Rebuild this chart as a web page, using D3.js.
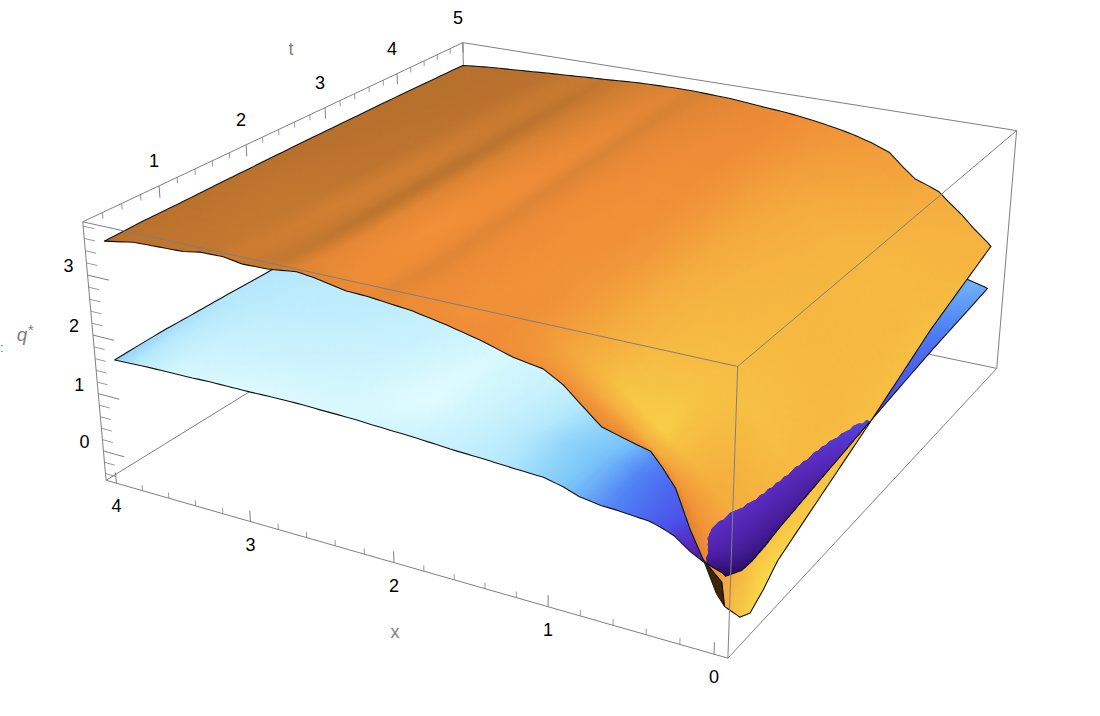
<!DOCTYPE html>
<html><head><meta charset="utf-8"><style>html,body{margin:0;background:#fff}svg{display:block}text{font-family:"Liberation Sans",Arial,sans-serif}</style></head>
<body><svg id="chart" width="1100" height="716"></svg>
<script src="https://cdn.jsdelivr.net/npm/d3@7"></script>
<script>
// ---- data ----
const xKnots=[0,.02,.13,.21,.3,.38,.45,.55,.64,.74,.87,.97,1.09,1.27,1.48,1.68,1.9,2.19,2.33,2.55,2.66,2.86,3.03,3.17,3.33,3.45,3.81,4.03];
const tKnots=[.33,.56,.71,.9,1.11,1.6,2.5,3.7,4.9];
const orangeQ=[
[.08,-.36,-.47,-.31,-.07,.19,.66,1.33,1.82],
[.45,-.26,-.37,-.21,.03,.29,.72,1.38,1.87],
[.72,.45,.40,.42,.52,.76,1.05,1.65,2.10],
[1.13,.75,.68,.72,.85,1.10,1.35,1.88,2.29],
[1.71,1.05,.98,1.05,1.18,1.48,1.65,2.10,2.47],
[1.98,1.35,1.25,1.28,1.38,1.66,1.82,2.24,2.64],
[2.18,1.60,1.45,1.45,1.55,1.80,1.95,2.35,2.71],
[2.24,1.80,1.65,1.63,1.70,1.92,2.10,2.48,2.80],
[2.30,2.00,1.85,1.80,1.85,2.05,2.25,2.60,2.98],
[2.37,2.20,2.08,2.02,2.05,2.22,2.42,2.78,3.20],
[2.65,2.45,2.35,2.30,2.30,2.45,2.65,2.98,3.32],
[2.87,2.62,2.52,2.47,2.47,2.60,2.80,3.10,3.39],
[3.04,2.80,2.70,2.65,2.65,2.75,2.95,3.22,3.46],
[3.11,2.98,2.90,2.87,2.87,2.95,3.12,3.35,3.54],
[3.26,3.15,3.10,3.08,3.08,3.15,3.30,3.48,3.61],
[3.37,3.30,3.27,3.25,3.25,3.30,3.40,3.55,3.65],
[3.47,3.42,3.40,3.38,3.38,3.42,3.50,3.62,3.70],
[3.54,3.50,3.49,3.47,3.47,3.49,3.55,3.65,3.73],
[3.55,3.53,3.52,3.50,3.50,3.52,3.58,3.67,3.73],
[3.65,3.60,3.58,3.56,3.55,3.57,3.61,3.68,3.72],
[3.68,3.65,3.62,3.60,3.58,3.60,3.63,3.68,3.71],
[3.62,3.61,3.60,3.60,3.59,3.60,3.62,3.66,3.68],
[3.61,3.60,3.60,3.60,3.60,3.60,3.62,3.64,3.66],
[3.66,3.63,3.62,3.61,3.60,3.60,3.61,3.63,3.64],
[3.65,3.62,3.60,3.59,3.59,3.59,3.59,3.61,3.62],
[3.60,3.59,3.58,3.58,3.58,3.58,3.58,3.59,3.60],
[3.57,3.55,3.54,3.54,3.54,3.55,3.55,3.55,3.55],
[3.48,3.49,3.50,3.50,3.50,3.51,3.52,3.52,3.50]];
const blueQ=[
[.56,.39,.37,.40,.46,.55,.71,.90,1.04],
[.60,.42,.40,.43,.49,.58,.74,.92,1.06],
[.69,.60,.58,.60,.65,.76,.90,1.02,1.13],
[.80,.74,.72,.74,.78,.87,.99,1.09,1.17],
[.97,.90,.88,.88,.90,.98,1.08,1.16,1.22],
[1.05,.99,.97,.97,.98,1.05,1.14,1.21,1.25],
[1.10,1.05,1.03,1.03,1.05,1.10,1.18,1.24,1.28],
[1.12,1.10,1.09,1.09,1.10,1.15,1.22,1.27,1.31],
[1.14,1.14,1.14,1.14,1.16,1.20,1.26,1.30,1.33],
[1.15,1.18,1.18,1.19,1.21,1.25,1.29,1.33,1.35],
[1.20,1.22,1.24,1.25,1.26,1.30,1.33,1.36,1.38],
[1.29,1.28,1.28,1.29,1.30,1.33,1.35,1.38,1.40],
[1.36,1.34,1.33,1.33,1.33,1.36,1.38,1.40,1.42],
[1.38,1.37,1.37,1.37,1.37,1.39,1.41,1.43,1.44],
[1.41,1.41,1.41,1.41,1.41,1.42,1.44,1.45,1.46],
[1.43,1.44,1.44,1.44,1.44,1.45,1.46,1.47,1.48],
[1.47,1.47,1.47,1.47,1.47,1.47,1.48,1.48,1.49],
[1.50,1.50,1.50,1.50,1.50,1.50,1.50,1.50,1.50],
[1.52,1.52,1.51,1.51,1.51,1.51,1.51,1.51,1.51],
[1.53,1.53,1.53,1.52,1.52,1.52,1.52,1.52,1.52],
[1.54,1.54,1.54,1.53,1.53,1.53,1.53,1.53,1.53],
[1.54,1.54,1.54,1.53,1.53,1.53,1.53,1.53,1.53],
[1.53,1.53,1.53,1.53,1.53,1.53,1.53,1.53,1.53],
[1.53,1.53,1.53,1.53,1.53,1.53,1.53,1.53,1.53],
[1.53,1.53,1.53,1.53,1.53,1.53,1.53,1.53,1.53],
[1.52,1.52,1.52,1.52,1.52,1.52,1.53,1.53,1.53],
[1.51,1.51,1.52,1.52,1.52,1.53,1.53,1.53,1.53],
[1.49,1.51,1.52,1.53,1.53,1.54,1.54,1.54,1.54]];
const orangeShadeT=[.33,.55,.9,1.6,2.6,3.7,4.9];
const orangeShadeX=[0,.05,.13,.3,.45,.64,.87,1.09,1.3,1.5,1.7,1.9,2.02,2.15,2.28,2.45,2.68,2.85,2.98,3.13,3.3,3.6,4.03];
const orangeShade=[
[.68,.9,.98,.9,.84,.84,.76],[.58,.8,.9,.84,.82,.82,.74],[.42,.55,.7,.8,.8,.8,.74],[.38,.5,.7,.84,.78,.8,.72],
[.4,.52,.78,.84,.78,.78,.68],[.42,.56,.92,.84,.78,.75,.63],[.47,.6,.88,.8,.75,.7,.58],[.5,.58,.72,.72,.68,.64,.55],
[.5,.54,.6,.6,.58,.56,.52],[.5,.5,.52,.54,.52,.5,.48],[.5,.52,.53,.53,.52,.5,.46],[.48,.5,.5,.5,.5,.46,.42],
[.48,.48,.47,.48,.46,.44,.4],[.44,.42,.4,.4,.38,.36,.34],[.48,.5,.5,.5,.5,.46,.4],[.44,.48,.5,.52,.48,.42,.36],
[.38,.42,.44,.44,.38,.32,.3],[.28,.22,.2,.16,.14,.16,.2],[.22,.26,.28,.3,.3,.26,.26],[.28,.3,.3,.32,.3,.26,.24],
[.2,.22,.24,.22,.18,.16,.14],[.2,.2,.2,.22,.16,.14,.14],[.14,.14,.14,.14,.12,.12,.12]];
const blueShadeT=[.33,.8,1.6,2.6,3.7,4.9];
const blueShadeX=[0,.1,.2,.35,.5,.7,.9,1.2,1.6,2.1,2.6,3.1,3.6,3.85,4.03];
const blueShade=[
[.02,.06,.12,.3,.38,.5],[.08,.14,.2,.32,.4,.52],[.18,.22,.28,.34,.42,.5],[.32,.34,.36,.38,.42,.5],
[.38,.36,.38,.42,.45,.5],[.44,.42,.46,.5,.5,.5],[.52,.52,.56,.6,.6,.6],[.66,.62,.68,.7,.7,.7],
[.82,.82,.85,.85,.85,.85],[.92,1,.95,.9,.9,.9],[.96,.9,.85,.8,.8,.8],[.98,.88,.8,.75,.75,.75],
[.92,.86,.78,.75,.75,.75],[.75,.78,.74,.72,.72,.72],[.6,.64,.72,.7,.7,.7]];
const undersideX=[.13,.05,0,.02];
const undersideQ=[.72,.25,.08,.45];
const xTicks=[0,1,2,3,4], tTicks=[1,2,3,4,5], qTicks=[0,1,2,3];
const xDomain=[-.08,4.08], tDomain=[.2,5], qDomain=[-.52,3.87];
const edgeColor='#7f7f7f';
const orangeRamp=d3.scaleLinear([0,.25,.5,.7,.85,1],['#a9672a','#c67a31','#ef8d37','#f5ac3f','#f6c144','#fbde4e']);
const blueRamp=d3.scaleLinear([0,.12,.22,.32,.42,.55,.72,1],['#25095c','#4a1fa0','#5a2cc0','#4a4fe8','#4f7ff5','#7cc7f9','#b5e8fc','#e0fcff']);
// camera calibrated on the eight corners of the frame: [u,v,w, px,py]
const cameraAnchors=[[1,0,1,83,222],[0,0,1,738,368],[0,1,1,1016,130],[1,1,1,463,42],[1,0,0,105.5,479],[0,0,0,728,658],[0,1,0,997,368],[1,1,0,467,259]];

// ---- projection ----
function solve(A,b){const n=b.length;A=A.map((r,i)=>[...r,b[i]]);for(let i=0;i<n;i++){let m=i;for(let k=i+1;k<n;k++)if(Math.abs(A[k][i])>Math.abs(A[m][i]))m=k;[A[i],A[m]]=[A[m],A[i]];for(let k=0;k<n;k++)if(k!=i){const f=A[k][i]/A[i][i];for(let j=i;j<=n;j++)A[k][j]-=f*A[i][j];}}return A.map((r,i)=>r[n]/r[i]);}
const rows=[],rhs=[];
for(const[u,v,w,x,y]of cameraAnchors){rows.push([u,v,w,1,0,0,0,0,-x*u,-x*v,-x*w]);rhs.push(x);rows.push([0,0,0,0,u,v,w,1,-y*u,-y*v,-y*w]);rhs.push(y);}
const P=solve(d3.range(11).map(i=>d3.range(11).map(j=>d3.sum(rows,r=>r[i]*r[j]))),d3.range(11).map(i=>d3.sum(rows,(r,k)=>r[i]*rhs[k])));
const sx=d3.scaleLinear(xDomain,[0,1]),st=d3.scaleLinear(tDomain,[0,1]),sq=d3.scaleLinear(qDomain,[0,1]);
function proj(x,t,q){const u=sx(x),v=st(t),w=sq(q),d=P[8]*u+P[9]*v+P[10]*w+1;return[(P[0]*u+P[1]*v+P[2]*w+P[3])/d,(P[4]*u+P[5]*v+P[6]*w+P[7])/d];}

// surface lookup between the knots read above
function field(xk,tk,grid){
  const ix=d3.scaleLinear(xk,d3.range(xk.length)).clamp(true),it=d3.scaleLinear(tk,d3.range(tk.length)).clamp(true);
  return (x,t)=>{const a=ix(x),b=it(t),i=Math.min(Math.floor(a),xk.length-2),j=Math.min(Math.floor(b),tk.length-2),f=a-i,g=b-j;
    return d3.interpolateNumber(d3.interpolateNumber(grid[i][j],grid[i][j+1])(g),d3.interpolateNumber(grid[i+1][j],grid[i+1][j+1])(g))(f);};
}
const qO=field(xKnots,tKnots,orangeQ),qB=field(xKnots,tKnots,blueQ);
const cO=field(orangeShadeX,orangeShadeT,orangeShade),cB=field(blueShadeX,blueShadeT,blueShade);
function subdivide(knots,stepFor){const out=[];for(let i=0;i<knots.length-1;i++){const a=knots[i],b=knots[i+1],n=Math.max(1,Math.ceil((b-a)/stepFor(a)));for(let k=0;k<n;k++)out.push(a+(b-a)*k/n);}out.push(knots[knots.length-1]);return out;}
const fx=subdivide(xKnots,a=>a<.35?.01:a<.6?.02:.05), ft=subdivide(tKnots,a=>a<2.4?.05:.09);

const svg=d3.select('#chart'), line=d3.line();
const defs=svg.append('defs');
function softFilter(id,edgeSharpen){
  const f=defs.append('filter').attr('id',id).attr('filterUnits','userSpaceOnUse').attr('x',0).attr('y',0).attr('width',1100).attr('height',716).attr('color-interpolation-filters','sRGB');
  f.append('feGaussianBlur').attr('in','SourceGraphic').attr('stdDeviation',edgeSharpen?1.8:2).attr('result','b');
  if(edgeSharpen){f.append('feComponentTransfer').attr('in','b').append('feFuncA').attr('type','linear').attr('slope',7).attr('intercept',-3);}
  else{const m=f.append('feMerge');m.append('feMergeNode').attr('in','SourceGraphic');m.append('feMergeNode').attr('in','b');}
}
softFilter('soft',false);softFilter('softEdge',true);
function edge(g,a,b,w){g.append('path').attr('d',line([a,b])).attr('fill','none').attr('stroke',edgeColor).attr('stroke-width',w||1);}
const [x0,x1]=xDomain,[t0,t1]=tDomain,[q0,q1]=qDomain;
const back=svg.append('g');
edge(back,proj(x1,t0,q0),proj(x1,t1,q0));edge(back,proj(x1,t1,q0),proj(x0,t1,q0));edge(back,proj(x1,t1,q0),proj(x1,t1,q1));

// painter's cells
const cells=[];
for(let j=ft.length-2;j>=0;j--)for(let i=fx.length-2;i>=0;i--){
  const a=fx[i],b=fx[i+1],c=ft[j],d=ft[j+1];cells.push({a,b,c,d,mx:(a+b)/2,mt:(c+d)/2});
}
function drawSurface(g,cs,qf,cf,ramp){
  g.selectAll('path').data(cs).join('path')
   .attr('d',k=>line([proj(k.a,k.c,qf(k.a,k.c)),proj(k.b,k.c,qf(k.b,k.c)),proj(k.b,k.d,qf(k.b,k.d)),proj(k.a,k.d,qf(k.a,k.d))])+'Z')
   .attr('fill',k=>ramp(cf(k.mx,k.mt))).attr('stroke',k=>ramp(cf(k.mx,k.mt))).attr('stroke-width',.6);
}
function outline(qf){
  const pts=[];
  ft.forEach(t=>pts.push([fx[0],t]));
  fx.slice(1).forEach(x=>pts.push([x,ft[ft.length-1]]));
  ft.slice(0,-1).reverse().forEach(t=>pts.push([fx[fx.length-1],t]));
  fx.slice(1,-1).reverse().forEach(x=>pts.push([x,ft[0]]));
  return pts.map(p=>proj(p[0],p[1],qf(p[0],p[1])));
}
const inkWidth=1.1;
function stroke(g,pts){g.append('path').attr('d',line(pts)+'Z').attr('fill','none').attr('stroke','#111').attr('stroke-width',inkWidth).attr('stroke-linejoin','round');}
function sheet(name,qf,cf,ramp){
  const o=outline(qf);
  defs.append('clipPath').attr('id','clip-'+name).append('path').attr('d',line(o)+'Z');
  const layer=svg.append('g');
  drawSurface(layer.append('g').attr('clip-path',`url(#clip-${name})`).append('g').attr('filter','url(#soft)'),cells,qf,cf,ramp);
  stroke(layer,o);
}
sheet('blue',qB,cB,blueRamp);
// underside of the orange sheet at the tip
svg.append('path').attr('d',line(undersideX.map((x,i)=>proj(x,tKnots[0],undersideQ[i])))+'Z').attr('fill','#3f2408').attr('stroke','#111').attr('stroke-width',1);
sheet('orange',qO,cO,orangeRamp);
// where the blue sheet rises above the orange one
const above=cells.filter(k=>qB(k.mx,k.mt)>qO(k.mx,k.mt));
const topLayer=svg.append('g');drawSurface(topLayer.append('g').attr('filter','url(#softEdge)'),above,qB,cB,blueRamp);
const rim=[];ft.forEach(t=>rim.push([0,t]));
const rimFront=fx.map(x=>[x,ft[0]]);
[rim,rimFront].forEach(r=>{for(let i=0;i<r.length-1;i++){const m=[(r[i][0]+r[i+1][0])/2,(r[i][1]+r[i+1][1])/2];if(qB(m[0],m[1])>qO(m[0],m[1]))topLayer.append('path').attr('d',line([proj(r[i][0],r[i][1],qB(r[i][0],r[i][1])),proj(r[i+1][0],r[i+1][1],qB(r[i+1][0],r[i+1][1]))])).attr('stroke','#111').attr('stroke-width',inkWidth).attr('fill','none').attr('stroke-linecap','round');}});

// frame in front of the sheets
const front=svg.append('g');
edge(front,proj(x1,t0,q1),proj(x0,t0,q1));edge(front,proj(x0,t0,q1),proj(x0,t1,q1));edge(front,proj(x0,t0,q1),proj(x0,t0,q0));
edge(front,proj(x1,t0,q1),proj(x1,t1,q1));edge(front,proj(x1,t1,q1),proj(x0,t1,q1));edge(front,proj(x0,t1,q1),proj(x0,t1,q0));
edge(front,proj(x1,t0,q1),proj(x1,t0,q0));edge(front,proj(x1,t0,q0),proj(x0,t0,q0));edge(front,proj(x0,t0,q0),proj(x0,t1,q0));

// ticks
const minor=(a,b)=>d3.range(Math.round(a*5),Math.round(b*5)+1).map(v=>v/5);
const ticks=svg.append('g');
function tk(a,b,maj){ticks.append('path').attr('d',line([a,b])).attr('stroke',edgeColor).attr('stroke-width',maj?1:.8).attr('fill','none');}
minor(0,4).forEach(v=>{const m=xTicks.includes(v);tk(proj(v,t0,q0),proj(v,t0,q0+(m?.19:.1)),m);});
minor(.2,5).forEach(v=>{const m=tTicks.includes(v);if(v>t0)tk(proj(x1,v,q1),proj(x1,v,q1-(m?.2:.1)),m);});
minor(-.4,3.8).forEach(v=>{const m=qTicks.includes(v);tk(proj(x1,t0,v),proj(x1-(m?.16:.08),t0,v),m);});
function label(p,dx,dy,s){svg.append('text').attr('x',p[0]+dx).attr('y',p[1]+dy).attr('text-anchor','middle').attr('dominant-baseline','central').attr('font-size',18).attr('fill','#000').text(s);}
xTicks.forEach(v=>label(proj(v,t0,q0),0,23,v));
tTicks.forEach(v=>label(proj(x1,v,q1),-5,-25,v));
qTicks.forEach(v=>label(proj(x1,t0,v),-19,-9,v));
function axisName(x,y,s){return svg.append('text').attr('x',x).attr('y',y).attr('text-anchor','middle').attr('font-size',18).attr('fill',edgeColor).text(s);}
axisName(291,55,'t');axisName(395,638,'x');
const qn=axisName(25,341,'q').attr('font-style','italic').attr('font-size',19);
qn.append('tspan').attr('dy',-6).attr('font-size',15).text('*');
svg.append('text').attr('x',0).attr('y',352).attr('font-size',13).attr('fill','#3b6cb5').text(':');
</script></body></html>
